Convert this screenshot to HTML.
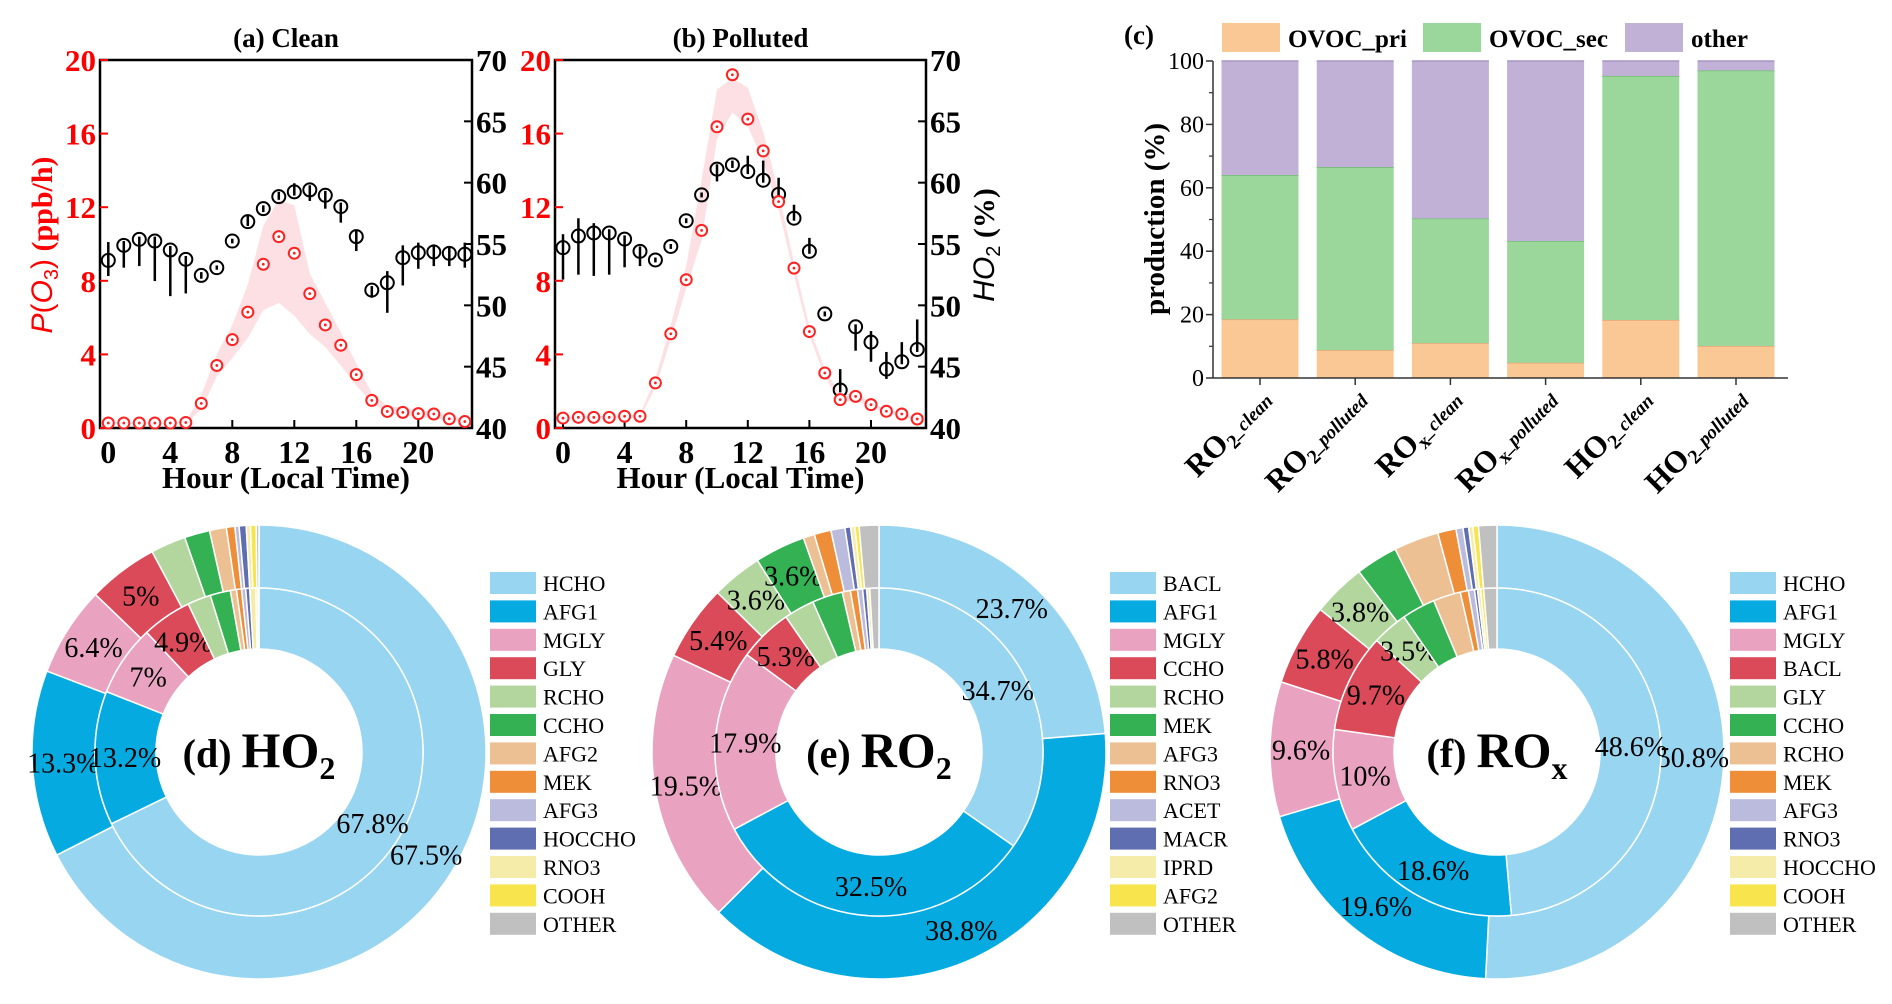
<!DOCTYPE html>
<html><head><meta charset="utf-8"><style>
body{margin:0;background:#fff}
svg{display:block}
svg text{font-family:"Liberation Serif",serif}
</style></head><body>
<svg id="fig" width="1892" height="1004" viewBox="0 0 1892 1004" xmlns="http://www.w3.org/2000/svg" font-family="Liberation Serif, serif"></svg>
<script>
// ---------- Panel a/b data ----------
const hours = [0,1,2,3,4,5,6,7,8,9,10,11,12,13,14,15,16,17,18,19,20,21,22,23];
const xTicks = [0,4,8,12,16,20];
const leftTicks = [0,4,8,12,16,20];
const rightTicks = [40,45,50,55,60,65,70];
const cleanPO3 = [0.27,0.27,0.27,0.27,0.27,0.3,1.34,3.4,4.8,6.3,8.9,10.4,9.5,7.3,5.6,4.5,2.9,1.5,0.9,0.85,0.78,0.76,0.5,0.35];
const cleanPO3Hi = [0.3,0.3,0.3,0.3,0.3,0.35,1.8,4.0,5.6,7.8,11.0,12.4,12.1,8.4,6.8,5.2,3.5,1.9,1.2,1.1,1.0,0.9,0.7,0.5];
const cleanPO3Lo = [0.25,0.25,0.25,0.25,0.25,0.25,1.0,2.8,3.8,4.9,6.4,6.8,6.1,5.1,4.4,3.4,2.3,1.4,0.8,0.7,0.6,0.5,0.4,0.3];
const cleanHO2 = [53.66,54.89,55.38,55.24,54.51,53.75,52.44,53.07,55.24,56.82,57.88,58.86,59.25,59.41,58.97,58.05,55.6,51.24,51.84,53.88,54.29,54.35,54.24,54.16];
const cleanHO2Lo = [52.39,53.07,53.2,51.98,50.75,50.97,52.17,52.9,55.05,56.47,57.6,58.6,58.95,58.51,57.88,56.74,54.43,50.62,49.39,51.62,52.98,53.2,53.2,53.07];
const cleanHO2Hi = [55.16,55.24,55.6,55.6,54.84,54.02,52.71,53.25,55.43,57.29,58.15,59.25,59.95,59.79,59.33,58.37,56.06,51.57,52.79,54.89,55.11,54.97,54.7,55.11];
const pollPO3 = [0.54,0.58,0.58,0.58,0.64,0.64,2.45,5.12,8.06,10.74,16.37,19.2,16.79,15.06,12.3,8.69,5.24,2.99,1.54,1.72,1.27,0.91,0.76,0.49];
const pollPO3Hi = [0.6,0.65,0.65,0.65,0.7,0.75,2.7,5.6,8.8,13.5,18.4,19.0,18.5,16.1,12.8,9.0,5.5,3.2,1.8,1.9,1.4,1.0,0.85,0.55];
const pollPO3Lo = [0.5,0.5,0.5,0.5,0.55,0.55,2.2,4.8,7.6,10.2,15.7,17.15,16.4,14.5,11.9,8.3,5.0,2.8,1.4,1.5,1.15,0.8,0.65,0.4];
const pollHO2 = [54.7,55.65,55.9,55.9,55.4,54.4,53.7,54.8,56.9,59.0,61.1,61.45,60.9,60.2,59.05,57.1,54.4,49.3,43.1,48.25,47.0,44.8,45.4,46.4];
const pollHO2Lo = [52.1,52.5,52.4,52.5,53.1,53.2,53.5,54.6,56.7,58.8,60.1,61.2,60.7,60.0,58.6,56.9,54.2,49.1,42.9,46.3,45.4,44.0,45.2,46.2];
const pollHO2Hi = [55.8,57.1,56.7,56.2,55.7,54.8,53.9,55.0,57.1,59.2,61.5,61.8,62.2,61.8,60.4,58.2,55.5,49.5,44.8,48.45,47.9,46.2,47.0,48.85];
// ---------- Panel c data ----------
const barCats = ["RO2_clean","RO2_polluted","ROx_clean","ROx_polluted","HO2_clean","HO2_polluted"];
const ovocPri = [18.5,8.8,11,4.8,18.3,10.1];
const ovocSec = [45.5,57.7,39.3,38.4,77.0,86.9];
const otherPct = [36.0,33.5,49.7,56.8,4.7,3.0];
const barTicks = [0,20,40,60,80,100];
// ---------- Donut data ----------
const dNames = ["HCHO","AFG1","MGLY","GLY","RCHO","CCHO","AFG2","MEK","AFG3","HOCCHO","RNO3","COOH","OTHER"];
const dOuter = [67.5,13.3,6.4,5,2.5,1.8,1.2,0.6,0.3,0.5,0.3,0.4,0.2];
const dInner = [67.8,13.2,7,4.9,2.3,2.0,0.6,0.5,0.4,0.4,0.6,0.2,0.1];
const eNames = ["BACL","AFG1","MGLY","CCHO","RCHO","MEK","AFG3","RNO3","ACET","MACR","IPRD","AFG2","OTHER"];
const eOuter = [23.7,38.8,19.5,5.4,3.6,3.6,0.8,1.2,1.0,0.4,0.3,0.3,1.4];
const eInner = [34.7,32.5,17.9,5.3,3.0,3.0,0.8,0.7,0.5,0.4,0.3,0,0.9];
const fNames = ["HCHO","AFG1","MGLY","BACL","GLY","CCHO","RCHO","MEK","AFG3","RNO3","HOCCHO","COOH","OTHER"];
const fOuter = [50.8,19.6,9.6,5.8,3.8,3.0,3.2,1.3,0.5,0.4,0.3,0.4,1.3];
const fInner = [48.6,18.6,10,9.7,3.5,3.3,2.7,0.8,0.6,0.3,0.3,0.3,1.3];
const labelMin = 3.4;

const palette = ["#97d5f0","#05abe0","#e9a3c1","#da4a59","#b2d69e","#33b153","#ecc093","#ee8e38","#bbbbdd","#5f6db1","#f6ecaa","#f8e54e","#c0c0c0"];
const NS="http://www.w3.org/2000/svg";
const svg=document.getElementById('fig');
function mk(tag,attrs,parent,text){const e=document.createElementNS(NS,tag);for(const k in attrs)e.setAttribute(k,attrs[k]);if(text!==undefined)e.textContent=text;(parent||svg).appendChild(e);return e;}

// ---------- time series panels ----------
function tsPanel(o){
  const g=mk('g',{});
  
  
  const L=o.x0,R=o.x1,T=60,B=428;
  const xs=h=>o.h0+(o.h20-o.h0)*h/20;
  const yl=v=>B-(B-T)*v/20;
  const yr=v=>B-(B-T)*(v-40)/30;
  let d='';
  hours.forEach((h,i)=>{d+=(i?'L':'M')+xs(h)+','+yl(o.hi[i]);});
  for(let i=hours.length-1;i>=0;i--)d+='L'+xs(hours[i])+','+yl(o.lo[i]);
  const band=mk('path',{d:d+'Z',fill:'#fde0e4',stroke:'none'},g);
  
  
  const fr=mk('rect',{x:L,y:T,width:R-L,height:B-T,fill:'none',stroke:'#000','stroke-width':2.5},g);
  
  
  xTicks.forEach(t=>{
    mk('line',{x1:xs(t),x2:xs(t),y1:B,y2:B-8,stroke:'#000','stroke-width':2},g);
    const tl=mk('text',{x:xs(t),y:B+35,'text-anchor':'middle','font-size':32,'font-weight':'bold'},g,t);
    
    
  });
  leftTicks.forEach(t=>{
    mk('line',{x1:L,x2:L+8,y1:yl(t),y2:yl(t),stroke:'red','stroke-width':2},g);
    const tl=mk('text',{x:L-4,y:yl(t)+11,'text-anchor':'end','font-size':31,'font-weight':'bold',fill:'red'},g,t);
    
    
  });
  rightTicks.forEach(t=>{
    mk('line',{x1:R,x2:R-8,y1:yr(t),y2:yr(t),stroke:'#000','stroke-width':2},g);
    const tl=mk('text',{x:R+4,y:yr(t)+11,'font-size':31,'font-weight':'bold'},g,t);
    
    
  });
  hours.forEach((h,i)=>{
    const x=xs(h);
    const eb=mk('line',{x1:x,x2:x,y1:yr(o.ho2lo[i]),y2:yr(o.ho2hi[i]),stroke:'#000','stroke-width':2.5},g);
    
    
    const c=mk('circle',{cx:x,cy:yr(o.ho2[i]),r:6.5,fill:'none',stroke:'#000','stroke-width':2},g);
    
    
  });
  hours.forEach((h,i)=>{
    const x=xs(h),y=yl(o.po3[i]);
    const c=mk('circle',{cx:x,cy:y,r:5.5,fill:'#fff',stroke:'#f22','stroke-width':2},g);
    
    
    mk('circle',{cx:x,cy:y,r:1.4,fill:'#f22'},g);
  });
  const ti=mk('text',{x:(L+R)/2,y:47,'text-anchor':'middle','font-size':27,'font-weight':'bold'},g,o.title);
  
  
  const xl=mk('text',{x:(L+R)/2,y:488,'text-anchor':'middle','font-size':31,'font-weight':'bold'},g,'Hour (Local Time)');
  
  
}
tsPanel({name:'panel-a-clean',x0:100,x1:472,h0:108.3,h20:418.3,title:'(a) Clean',po3:cleanPO3,hi:cleanPO3Hi,lo:cleanPO3Lo,ho2:cleanHO2,ho2lo:cleanHO2Lo,ho2hi:cleanHO2Hi});
tsPanel({name:'panel-b-polluted',x0:555,x1:926,h0:563,h20:871,title:'(b) Polluted',po3:pollPO3,hi:pollPO3Hi,lo:pollPO3Lo,ho2:pollHO2,ho2lo:pollHO2Lo,ho2hi:pollHO2Hi});
(function(){
  const t=mk('text',{transform:'translate(52,245) rotate(-90)','text-anchor':'middle','font-size':30,fill:'red','font-weight':'bold'});
  
  
  t.innerHTML='<tspan font-style="italic" font-weight="normal" style="font-family:Liberation Sans,sans-serif">P</tspan><tspan font-weight="normal" style="font-family:Liberation Sans,sans-serif">(</tspan><tspan font-style="italic" font-weight="normal" style="font-family:Liberation Sans,sans-serif">O</tspan><tspan font-weight="normal" style="font-family:Liberation Sans,sans-serif" font-size="20" dy="6">3</tspan><tspan font-weight="normal" style="font-family:Liberation Sans,sans-serif" dy="-6">)</tspan> (ppb/h)';
  const r=mk('text',{transform:'translate(994,245) rotate(-90)','text-anchor':'middle','font-size':30,'font-weight':'bold'});
  
  
  r.innerHTML='<tspan font-style="italic" font-weight="normal" style="font-family:Liberation Sans,sans-serif">HO</tspan><tspan font-weight="normal" style="font-family:Liberation Sans,sans-serif" font-size="20" dy="6">2</tspan><tspan dy="-6"> (%)</tspan>';
})();

// ---------- Panel c ----------
(function(){
  const g=mk('g',{});
  
  
  const L=1213,R=1788,T=61,B=378,bw=77;
  const y=v=>B-(B-T)*v/100;
  const xc=i=>1260+i*95.2;
  const cols=['#fac895','#9bd79b','#c2b1d7'],edge=['#e8a878','#6cbf6c','#a796c4'];
  barCats.forEach((c,i)=>{
    const parts=[ovocPri[i],ovocSec[i],otherPct[i]];
    let acc=0;
    parts.forEach((p,k)=>{
      const r=mk('rect',{x:xc(i)-bw/2,y:y(acc+p),width:bw,height:y(acc)-y(acc+p),fill:cols[k]},g);
      
      
      mk('line',{x1:xc(i)-bw/2,x2:xc(i)+bw/2,y1:y(acc+p),y2:y(acc+p),stroke:edge[k],'stroke-width':1.5},g);
      acc+=p;
    });
    mk('line',{x1:xc(i),x2:xc(i),y1:B,y2:B+7,stroke:'#333','stroke-width':1.5},g);
    const m=c.match(/^(RO|HO)(2|x)_(.*)$/);
    const t=mk('text',{transform:'translate('+(xc(i)+14)+','+(B+24)+') rotate(-45)','text-anchor':'end','font-size':31,'font-weight':'bold'},g);
    
    
    t.innerHTML=m[1]+'<tspan font-size="20" dy="6">'+m[2]+'</tspan><tspan font-size="19" font-style="italic" dy="-6">_'+m[3]+'</tspan>';
  });
  mk('line',{x1:L,x2:L,y1:T,y2:B,stroke:'#333','stroke-width':1.5},g);
  mk('line',{x1:L,x2:R,y1:B,y2:B,stroke:'#333','stroke-width':1.5},g);
  barTicks.forEach(t=>{
    mk('line',{x1:L,x2:L-7,y1:y(t),y2:y(t),stroke:'#333','stroke-width':1.5},g);
    if(t<100) mk('line',{x1:L,x2:L-4,y1:y(t+10),y2:y(t+10),stroke:'#333','stroke-width':1.2},g);
    const tl=mk('text',{x:L-9,y:y(t)+8,'text-anchor':'end','font-size':24},g,t);
    
    
  });
  const yt=mk('text',{transform:'translate(1164,219) rotate(-90)','text-anchor':'middle','font-size':29,'font-weight':'bold'},g,'production (%)');
  
  
  const pl=mk('text',{x:1124,y:44,'font-size':27,'font-weight':'bold'},g,'(c)');
  
  
  const legX=[1222,1423,1625],legT=['OVOC_pri','OVOC_sec','other'];
  legT.forEach((s,k)=>{
    const r=mk('rect',{x:legX[k],y:23,width:58,height:29,fill:cols[k]},g);
    
    
    const tx=mk('text',{x:legX[k]+66,y:47,'font-size':25,'font-weight':'bold'},g,s);
    
    
  });
})();

// ---------- Donuts ----------
function arc(cx,cy,r0,r1,a0,a1){
  const p=(r,a)=>[cx+r*Math.sin(a),cy-r*Math.cos(a)];
  const lg=(a1-a0)>Math.PI?1:0;
  const A=p(r1,a0),B=p(r1,a1),C=p(r0,a1),D=p(r0,a0);
  return 'M'+A+'A'+r1+','+r1+' 0 '+lg+' 1 '+B+'L'+C+'A'+r0+','+r0+' 0 '+lg+' 0 '+D+'Z';
}
function donut(o){
  const g=mk('g',{});
  
  
  const cx=o.cx,cy=752,rH=103,rM=164,rO=227;
  [[o.outer,rM,rO,196,'outer'],[o.inner,rH,rM,134,'inner']].forEach(([vals,r0,r1,rl,ring])=>{
    let acc=0;
    vals.forEach((v,i)=>{
      if(v<=0)return;
      const a0=acc/100*2*Math.PI,a1=(acc+v)/100*2*Math.PI;
      const s=mk('path',{d:arc(cx,cy,r0,r1,a0,a1),fill:palette[i],stroke:'#fff','stroke-width':1.5},g);
      
      
      if(v>=labelMin){
        const am=(a0+a1)/2;
        const t=mk('text',{x:cx+rl*Math.sin(am),y:cy-rl*Math.cos(am)+10,'text-anchor':'middle','font-size':28},g,v+'%');
        
        
      }
      acc+=v;
    });
  });
  const ct=mk('text',{x:cx,y:cy+15,'text-anchor':'middle','font-size':50,'font-weight':'bold'},g);
  
  
  ct.innerHTML='<tspan font-size="40">'+o.tag+' </tspan>'+o.sp+'<tspan font-size="32" dy="12">'+o.sub+'</tspan>';
  o.names.forEach((n,i)=>{
    const y0=572+i*28.4;
    const r=mk('rect',{x:o.lx,y:y0,width:46,height:22,fill:palette[i]},g);
    
    
    const t=mk('text',{x:o.lx+53,y:y0+19,'font-size':22},g,n);
    
    
  });
}
donut({name:'panel-d-ho2-donut',cx:259,lx:490,names:dNames,outer:dOuter,inner:dInner,tag:'(d)',sp:'HO',sub:'2'});
donut({name:'panel-e-ro2-donut',cx:879,lx:1110,names:eNames,outer:eOuter,inner:eInner,tag:'(e)',sp:'RO',sub:'2'});
donut({name:'panel-f-rox-donut',cx:1497,lx:1730,names:fNames,outer:fOuter,inner:fInner,tag:'(f)',sp:'RO',sub:'x'});
</script>
</body></html>
